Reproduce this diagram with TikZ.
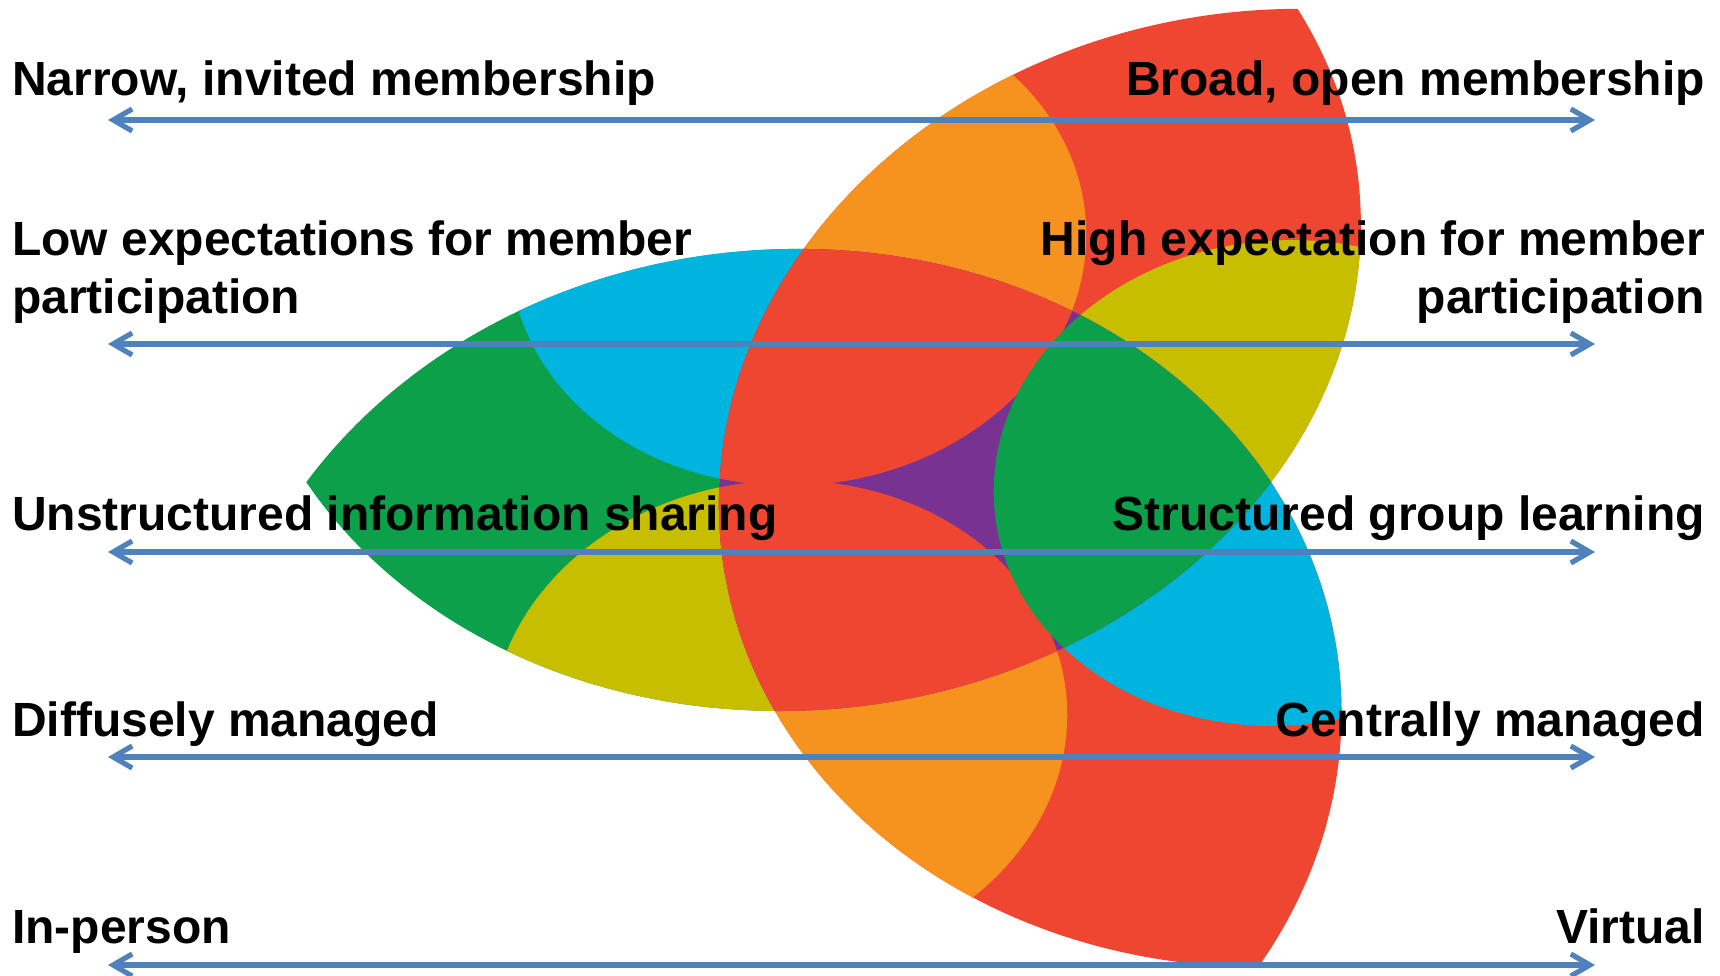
\documentclass[tikz,border=0pt]{standalone}
\usepackage{fontspec}
\setmainfont{Liberation Sans}
\usetikzlibrary{arrows.meta}
\definecolor{petalred}{RGB}{239,70,50}
\definecolor{petalorange}{RGB}{246,146,30}
\definecolor{petalyellow}{RGB}{200,190,0}
\definecolor{petalgreen}{RGB}{12,160,75}
\definecolor{petalblue}{RGB}{0,180,224}
\definecolor{petalpurple}{RGB}{120,50,145}
\definecolor{axisblue}{RGB}{79,129,189}
\begin{document}
\begin{tikzpicture}[x=1pt,y=-1pt,
  txt/.style={font=\fontsize{48}{58}\selectfont\bfseries, inner sep=0pt, text=black},
  scalearrow/.style={draw=axisblue, line width=5.2pt,
    {Straight Barb[length=19pt,width=22pt]}-{Straight Barb[length=19pt,width=22pt]}},
]
\useasboundingbox (0,0) rectangle (1720,976);

% Three-petal figure: three big rings K and three inner discs J sharing centres
\begin{scope}[cm={1.2,0,-0.04,-1.012,(953pt,-483pt)}]
  \def\Jr{240}
  \coordinate (c0) at (0:274);
  \coordinate (c1) at (120:274);
  \coordinate (c2) at (240:274);
  \def\Kzero{(274,-5) ellipse[x radius=468.6, y radius=473.6]}
  \def\Kone{(-137,240.3) ellipse[x radius=468.6, y radius=465.6]}
  \def\Ktwo{(-137,-243.3) ellipse[x radius=468.6, y radius=474.6]}
  % left petal (K120 and K240)
  \begin{scope}
    \clip \Kone;
    \clip \Ktwo;
    \fill[petalgreen] \Kone;
    \fill[petalblue] (c1) circle[radius=\Jr];
    \fill[petalyellow] (c2) circle[radius=\Jr];
  \end{scope}
  % upper petal (K0 and K120)
  \begin{scope}
    \clip \Kzero;
    \clip \Kone;
    \fill[petalred] \Kzero;
    \fill[petalorange] (c1) circle[radius=\Jr];
    \fill[petalyellow] (c0) circle[radius=\Jr];
  \end{scope}
  % lower petal (K0 and K240)
  \begin{scope}
    \clip \Kzero;
    \clip \Ktwo;
    \fill[petalred] \Kzero;
    \fill[petalorange] (c2) circle[radius=\Jr];
    \fill[petalblue] (c0) circle[radius=\Jr];
  \end{scope}
  % core shared by all three
  \begin{scope}
    \clip \Kzero;
    \clip \Kone;
    \clip \Ktwo;
    \fill[petalpurple] \Kzero;
    \fill[petalred] (c1) circle[radius=\Jr];
    \fill[petalred] (c2) circle[radius=\Jr];
    \fill[petalgreen] (c0) circle[radius=\Jr];
  \end{scope}
\end{scope}

% double-headed scale arrows
\coordinate (a1l) at (108,120);  \coordinate (a1r) at (1595,120);
\coordinate (a2l) at (108,344);  \coordinate (a2r) at (1595,344);
\coordinate (a3l) at (108,552);  \coordinate (a3r) at (1595,552);
\coordinate (a4l) at (108,757);  \coordinate (a4r) at (1595,757);
\coordinate (a5l) at (108,965);  \coordinate (a5r) at (1595,965);
\draw[scalearrow] (a1l) -- (a1r);
\draw[scalearrow] (a2l) -- (a2r);
\draw[scalearrow] (a3l) -- (a3r);
\draw[scalearrow] (a4l) -- (a4r);
\draw[scalearrow] (a5l) -- (a5r);

% end labels
\node[txt, anchor=base west] (narrow) at (12,96) {Narrow, invited membership};
\node[txt, anchor=base east] (broad) at (1705,96) {Broad, open membership};
\node[txt, anchor=base west] (low) at (12,255) {Low expectations for member};
\node[txt, anchor=base west] (lowb) at (12,313) {participation};
\node[txt, anchor=base east] (high) at (1705,255) {High expectation for member};
\node[txt, anchor=base east] (highb) at (1705,313) {participation};
\node[txt, anchor=base west] (unstr) at (12,530) {Unstructured information sharing};
\node[txt, anchor=base east] (struct) at (1705,530) {Structured group learning};
\node[txt, anchor=base west] (diffuse) at (12,736) {Diffusely managed};
\node[txt, anchor=base east] (central) at (1705,736) {Centrally managed};
\node[txt, anchor=base west] (inperson) at (12,943) {In-person};
\node[txt, anchor=base east] (virtual) at (1705,943) {Virtual};
\end{tikzpicture}
\end{document}
